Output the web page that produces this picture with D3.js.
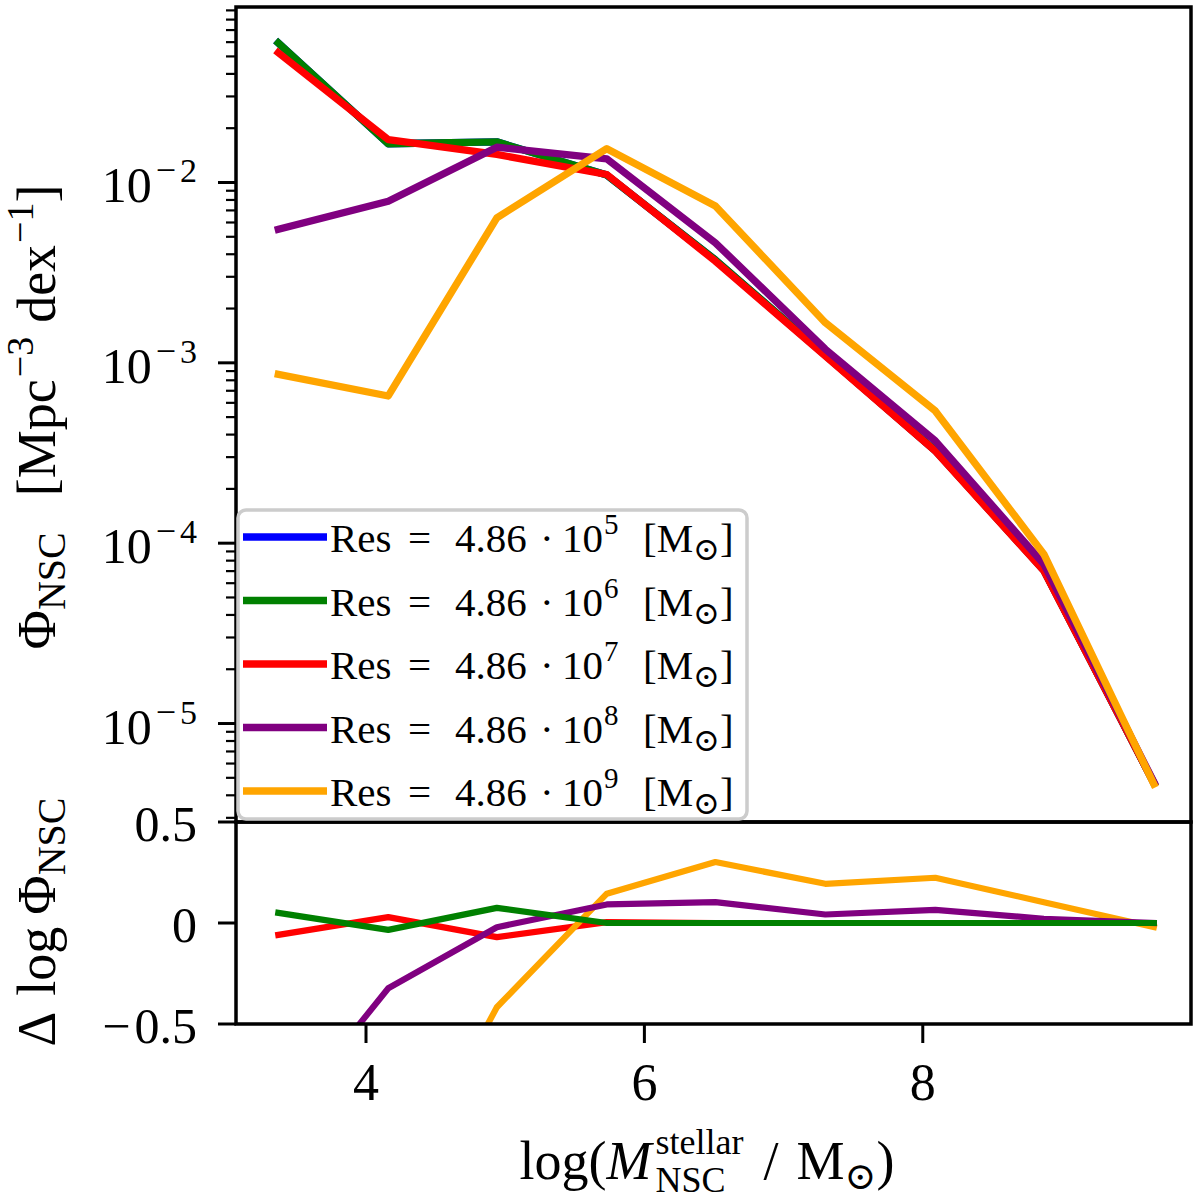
<!DOCTYPE html>
<html>
<head>
<meta charset="utf-8">
<script src="https://cdn.jsdelivr.net/npm/d3@7"></script>
<style>
  body { margin: 0; background: #fff; }
  text { font-family: "Liberation Serif", "DejaVu Serif", serif; fill: #000; }
</style>
</head>
<body>
<svg id="chart" width="1200" height="1199"></svg>
<script>
// bin centres, log(M_NSC / Msun)
var massBins = [3.37, 4.16, 4.94, 5.73, 6.51, 7.30, 8.09, 8.87, 9.66];

// Phi_NSC [Mpc^-3 dex^-1] per resolution run (blue sits hidden under green)
var phiBlue   = [5.94e-2, 1.64e-2, 1.68e-2, 1.10e-2, 3.72e-3, 1.10e-3, 3.26e-4, 7.08e-5, 4.68e-6];
var phiGreen  = [5.94e-2, 1.64e-2, 1.68e-2, 1.10e-2, 3.72e-3, 1.10e-3, 3.26e-4, 7.08e-5, 4.68e-6];
var phiRed    = [5.24e-2, 1.73e-2, 1.43e-2, 1.107e-2, 3.66e-3, 1.09e-3, 3.24e-4, 7.03e-5, 4.68e-6];
var phiPurple = [5.5e-3, 7.87e-3, 1.57e-2, 1.35e-2, 4.63e-3, 1.19e-3, 3.69e-4, 7.66e-5, 4.74e-6];
var phiOrange = [8.63e-4, 6.55e-4, 6.37e-3, 1.54e-2, 7.4e-3, 1.67e-3, 5.41e-4, 8.69e-5, 4.62e-6];

// Delta log Phi_NSC (lower panel)
var dGreen  = [0.05, -0.034, 0.075, 0, 0, 0, 0, 0, 0];
var dRed    = [-0.059, 0.029, -0.07, 0.004, 0, 0, 0, 0, 0];
var dPurple = [-1.0, -0.323, -0.021, 0.092, 0.103, 0.042, 0.065, 0.021, 0.0];
var dOrange = [-1.82, -1.42, -0.417, 0.145, 0.302, 0.194, 0.224, 0.103, -0.02];

var resExponents = [5, 6, 7, 8, 9];
var seriesColors = ["#0000ff", "#008000", "#ff0000", "#800080", "#ffa500"];

var xTicks = [4, 6, 8];
var yTopTicks = [1e-2, 1e-3, 1e-4, 1e-5];
var yTopTickExp = ["2", "3", "4", "5"];   // shown as 10^-n
var yBotTicks = [0.5, 0, -0.5];
var yBotTickLabels = ["0.5", "0", "0.5"]; // sign drawn separately

// layout (window.top is reserved, so plotTop)
var plotLeft = 236, plotRight = 1191, plotTop = 7, plotSplit = 822, plotBottom = 1024;

var svg = d3.select("#chart");

var x = d3.scaleLinear().domain([3.066, 9.927]).range([plotLeft, plotRight]);
var yTop = d3.scaleLog().domain([Math.pow(10, -5.546), Math.pow(10, -1.027)]).range([plotSplit, plotTop]);
var yBot = d3.scaleLinear().domain([-0.5, 0.5]).range([plotBottom, plotSplit]);

// lays out a run of text pieces (for sub/superscripts), measured one by one
function rich(parent, pieces, opts) {
  var g = parent.append("g")
    .attr("transform", "translate(" + opts.x + "," + opts.y + ")" + (opts.rotate ? " rotate(" + opts.rotate + ")" : ""));
  var inner = g.append("g");
  var cursor = 0, lastStart = 0;
  pieces.forEach(function(p) {
    if (p.gap) { cursor += p.gap; return; }
    var x0 = p.at != null ? p.at : (p.stack ? lastStart : cursor);
    var t = inner.append("text")
      .attr("x", x0).attr("y", p.dy || 0)
      .attr("font-size", p.size)
      .text(p.t);
    if (p.italic) t.attr("font-style", "italic");
    var w = t.node().getComputedTextLength();
    lastStart = x0;
    cursor = p.stack ? Math.max(cursor, x0 + w) : x0 + w;
  });
  var shift = opts.anchor === "end" ? -cursor : (opts.anchor === "middle" ? -cursor / 2 : 0);
  inner.attr("transform", "translate(" + shift + ",0)");
  return g;
}

// clip paths
var defs = svg.append("defs");
defs.append("clipPath").attr("id", "clipTop").append("rect")
  .attr("x", plotLeft).attr("y", plotTop).attr("width", plotRight - plotLeft).attr("height", plotSplit - plotTop);
defs.append("clipPath").attr("id", "clipBot").append("rect")
  .attr("x", plotLeft).attr("y", plotSplit).attr("width", plotRight - plotLeft).attr("height", plotBottom - plotSplit);

// upper panel lines
var phiSeries = [phiBlue, phiGreen, phiRed, phiPurple, phiOrange];
var lineTop = d3.line().x(function(d, i) { return x(massBins[i]); }).y(function(d) { return yTop(d); });
svg.append("g").attr("clip-path", "url(#clipTop)")
  .selectAll("path").data(phiSeries).enter().append("path")
  .attr("d", lineTop)
  .attr("fill", "none")
  .attr("stroke", function(d, i) { return seriesColors[i]; })
  .attr("stroke-width", 7.3)
  .attr("stroke-linejoin", "round")
  .attr("stroke-linecap", "square");

// lower panel lines (drawn so green ends up on top)
var dSeries = [
  { v: dRed, c: seriesColors[2] },
  { v: dOrange, c: seriesColors[4] },
  { v: dPurple, c: seriesColors[3] },
  { v: dGreen, c: seriesColors[1] }
];
var lineBot = d3.line().x(function(d, i) { return x(massBins[i]); }).y(function(d) { return yBot(d); });
svg.append("g").attr("clip-path", "url(#clipBot)")
  .selectAll("path").data(dSeries).enter().append("path")
  .attr("d", function(s) { return lineBot(s.v); })
  .attr("fill", "none")
  .attr("stroke", function(s) { return s.c; })
  .attr("stroke-width", 6.2)
  .attr("stroke-linejoin", "round")
  .attr("stroke-linecap", "square");

// frames
svg.append("rect").attr("x", plotLeft).attr("y", plotTop).attr("width", plotRight - plotLeft).attr("height", plotSplit - plotTop)
  .attr("fill", "none").attr("stroke", "#000").attr("stroke-width", 3.5);
svg.append("rect").attr("x", plotLeft).attr("y", plotSplit).attr("width", plotRight - plotLeft).attr("height", plotBottom - plotSplit)
  .attr("fill", "none").attr("stroke", "#000").attr("stroke-width", 3.5);

// upper y ticks, major + minor
var ticksG = svg.append("g");
var dom = yTop.domain();
for (var dec = -6; dec <= -1; dec++) {
  for (var m = 1; m <= 9; m++) {
    var v = m * Math.pow(10, dec);
    if (v < dom[0] || v > dom[1]) continue;
    var len = m === 1 ? 18 : 10;
    ticksG.append("line")
      .attr("x1", plotLeft - len).attr("x2", plotLeft)
      .attr("y1", yTop(v)).attr("y2", yTop(v))
      .attr("stroke", "#000").attr("stroke-width", m === 1 ? 3 : 2.2);
  }
}
yTopTicks.forEach(function(v, i) {
  rich(svg, [
    { t: "10", size: 50 },
    { gap: 4 },
    { t: "\u2212", size: 36, dy: -20 },
    { gap: 4 },
    { t: yTopTickExp[i], size: 34, dy: -20 }
  ], { x: 197, y: yTop(v) + 20, anchor: "end" });
});

// lower y ticks
yBotTicks.forEach(function(v, i) {
  ticksG.append("line")
    .attr("x1", plotLeft - 18).attr("x2", plotLeft)
    .attr("y1", yBot(v)).attr("y2", yBot(v))
    .attr("stroke", "#000").attr("stroke-width", 3);
  var pieces = [{ t: yBotTickLabels[i], size: 50 }];
  if (v < 0) pieces = [{ t: "\u2212", size: 50 }, { gap: 4 }].concat(pieces);
  rich(svg, pieces, { x: 197, y: yBot(v) + 19, anchor: "end" });
});

// x ticks
xTicks.forEach(function(v) {
  ticksG.append("line")
    .attr("x1", x(v)).attr("x2", x(v))
    .attr("y1", plotBottom).attr("y2", plotBottom + 19)
    .attr("stroke", "#000").attr("stroke-width", 3);
  svg.append("text")
    .attr("x", x(v)).attr("y", 1100)
    .attr("text-anchor", "middle").attr("font-size", 52)
    .text(v);
});

// axis labels
rich(svg, [
  { t: "log(", size: 54 },
  { t: "M", size: 54, italic: true },
  { gap: 4 },
  { t: "stellar", size: 36, dy: -25 },
  { t: "NSC", size: 36, dy: 13, stack: true },
  { gap: 20 },
  { t: "/", size: 54 },
  { gap: 18 },
  { t: "M", size: 54 },
  { t: "\u2299", size: 38, dy: 10 },
  { t: ")", size: 54 }
], { x: 707, y: 1179, anchor: "middle" });

rich(svg, [
  { t: "\u03a6", size: 54 },
  { t: "NSC", size: 40, dy: 10 },
  { gap: 36 },
  { t: "[Mpc", size: 54 },
  { gap: 2 },
  { t: "\u22123", size: 38, dy: -22 },
  { gap: 14 },
  { t: "dex", size: 54 },
  { gap: 2 },
  { t: "\u22121", size: 38, dy: -22 },
  { t: "]", size: 54 }
], { x: 55, y: 417, rotate: -90, anchor: "middle" });

rich(svg, [
  { t: "\u0394", size: 54 },
  { gap: 16 },
  { t: "log", size: 54 },
  { gap: 12 },
  { t: "\u03a6", size: 54 },
  { t: "NSC", size: 40, dy: 10 }
], { x: 55, y: 922, rotate: -90, anchor: "middle" });

// legend
var legend = svg.append("g");
legend.append("rect")
  .attr("x", 238).attr("y", 510).attr("width", 509).attr("height", 309)
  .attr("rx", 8).attr("ry", 8)
  .attr("fill", "#fff").attr("fill-opacity", 0.8)
  .attr("stroke", "#cccccc").attr("stroke-width", 3.5);
var legendRows = [537, 600.5, 664, 727.5, 791];
resExponents.forEach(function(k, i) {
  var yy = legendRows[i];
  legend.append("line")
    .attr("x1", 243).attr("x2", 327).attr("y1", yy).attr("y2", yy)
    .attr("stroke", seriesColors[i]).attr("stroke-width", 7.3);
  rich(legend, [
    { t: "Res", size: 41, at: 0 },
    { t: "=", size: 41, at: 78 },
    { t: "4.86", size: 41, at: 125 },
    { t: "\u00b7", size: 41, at: 210 },
    { t: "10", size: 41, at: 232 },
    { t: String(k), size: 29, dy: -18, at: 274 },
    { t: "[M", size: 41, at: 313 },
    { t: "\u2299", size: 32, dy: 8 },
    { t: "]", size: 41 }
  ], { x: 330, y: yy + 15, anchor: "start" });
});
</script>
</body>
</html>
